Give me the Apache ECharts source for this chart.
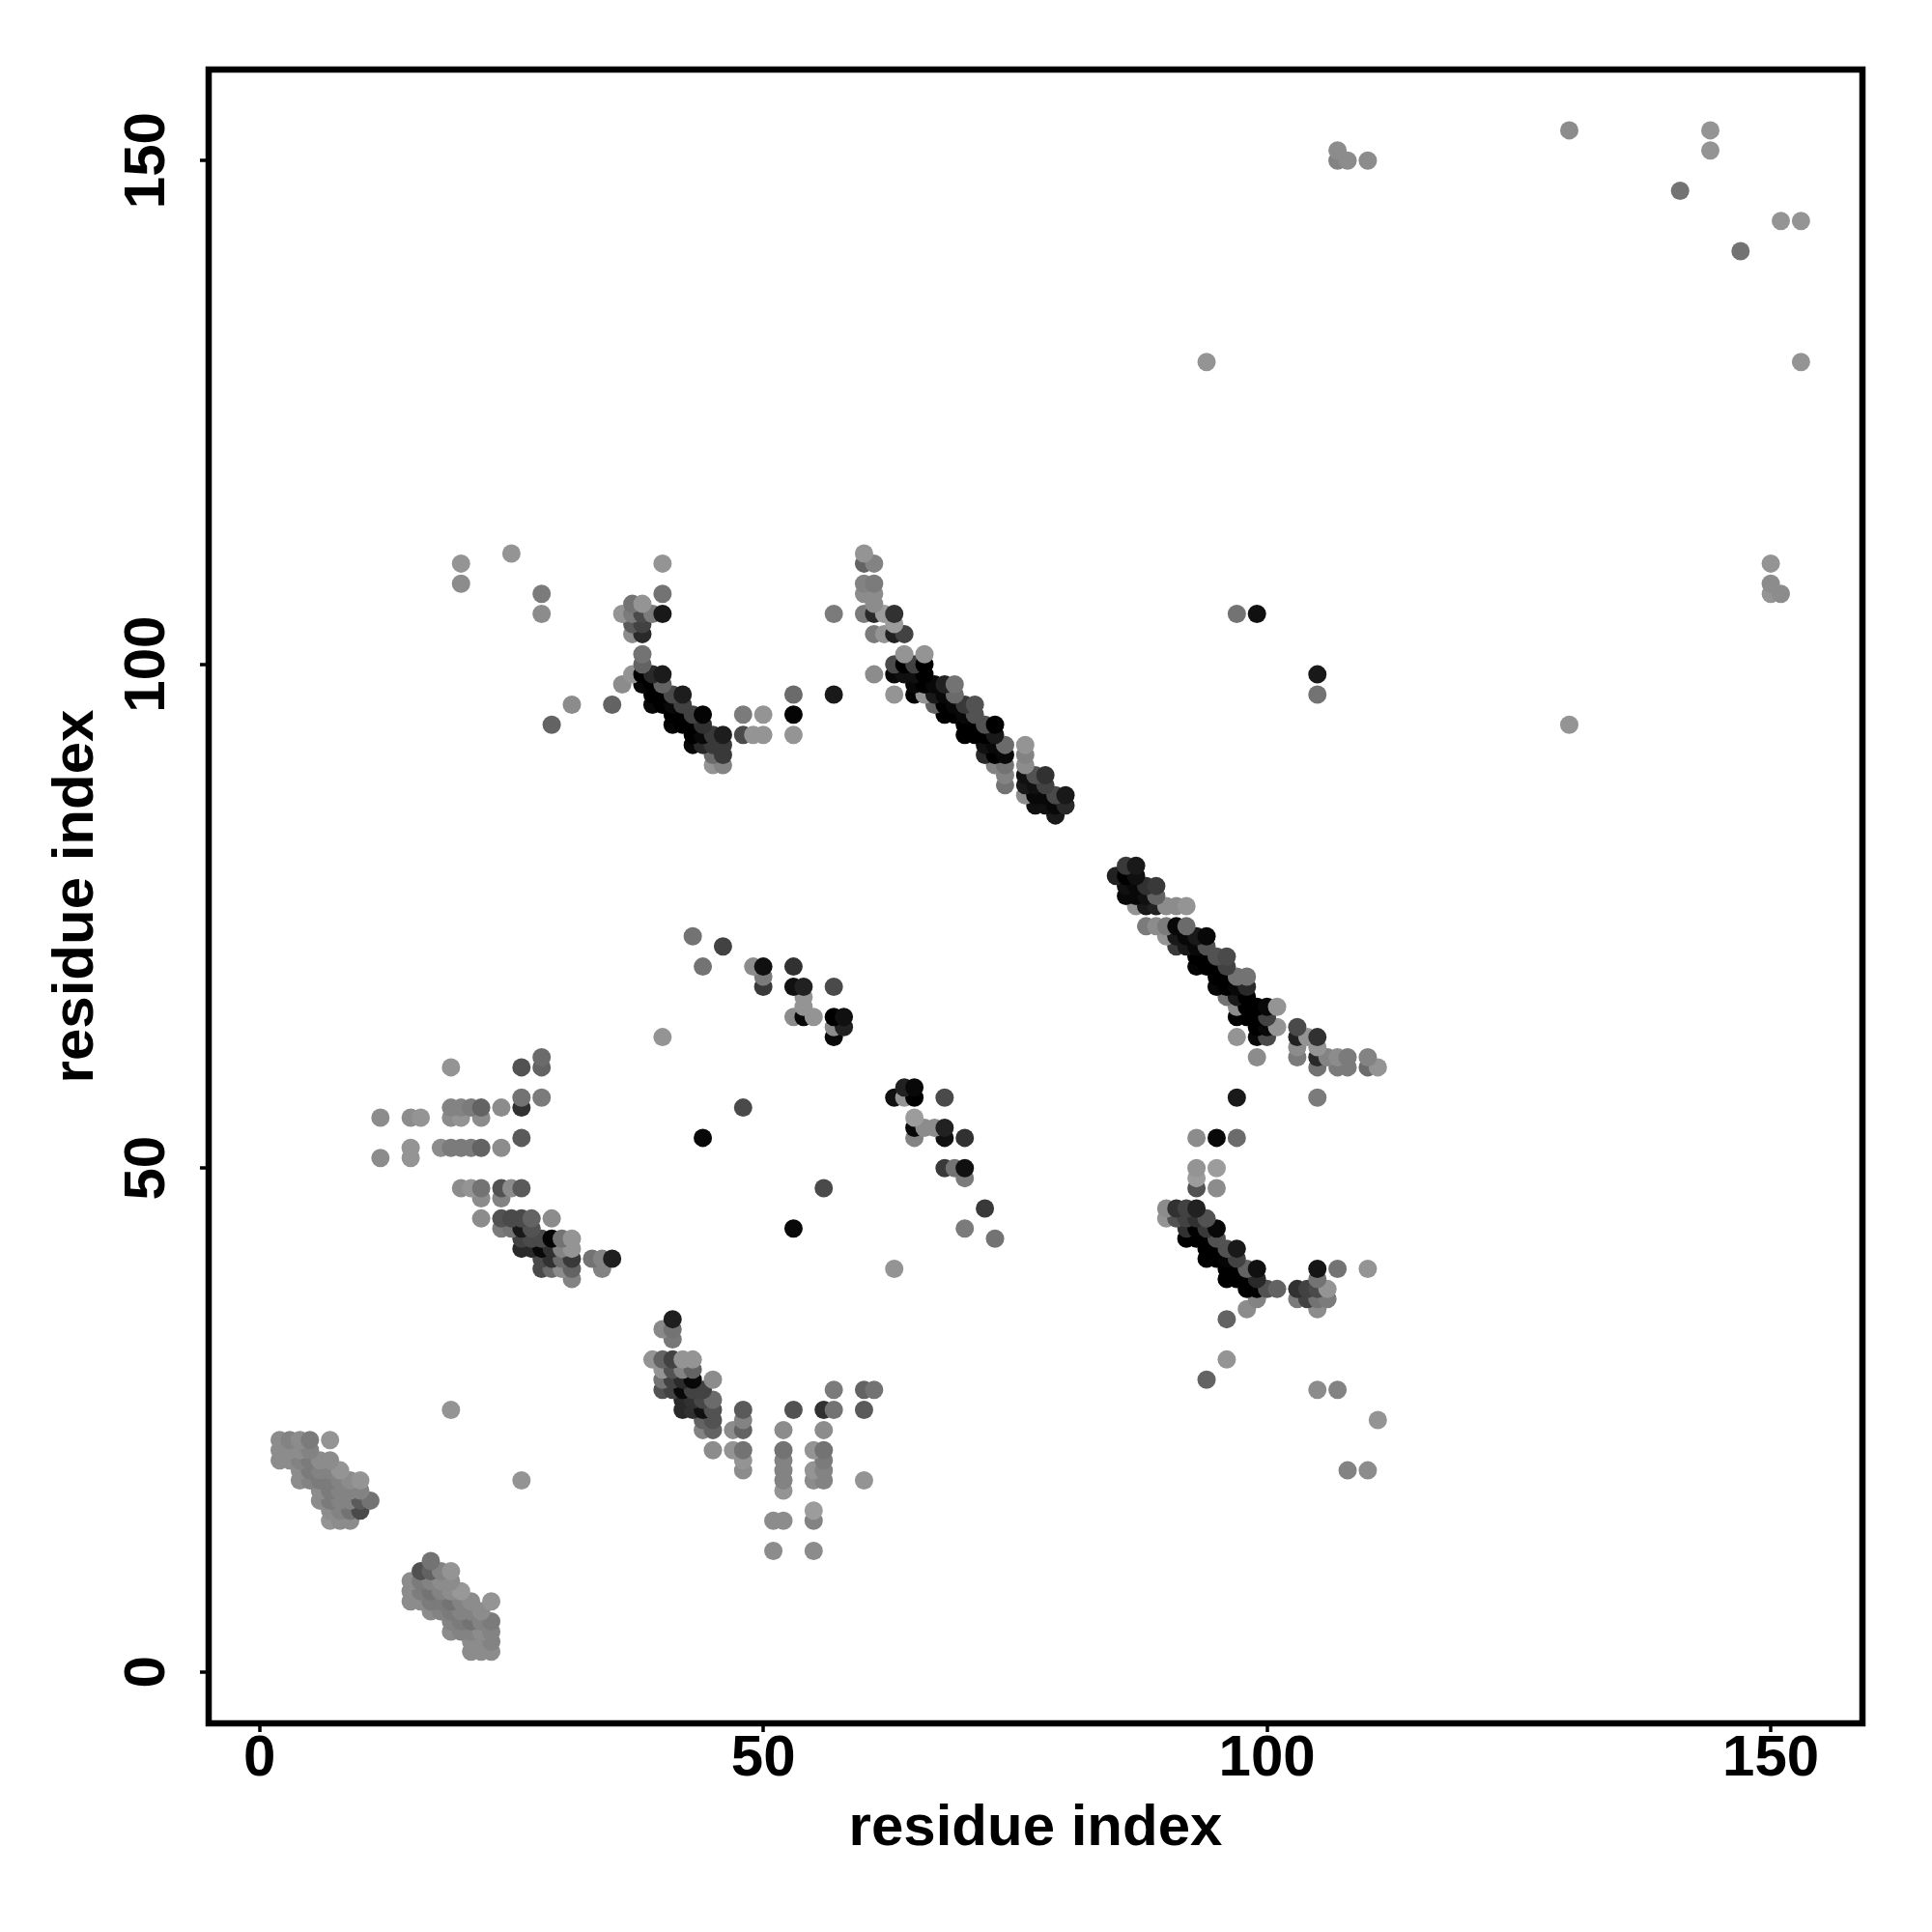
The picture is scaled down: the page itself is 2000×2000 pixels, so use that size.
<!DOCTYPE html>
<html>
<head>
<meta charset="utf-8">
<style>html,body{margin:0;padding:0;background:#fff}#c{width:2000px;height:2000px}</style>
<script src="https://cdn.jsdelivr.net/npm/echarts@6/dist/echarts.min.js"></script>
</head>
<body>
<div id="c"></div>
<script>
// Each entry: [residue i, residue j, level]  (level: 0 = strongest/black, 0x98 = weakest/light grey)
const tickValues = [0, 50, 100, 150];
const axisTitle = 'residue index';

const clusterA = [
[19,26,0x90],[26,19,0x90],
[2,23,0x88],[3,23,0x80],[4,23,0x88],[5,23,0x78],[7,23,0x90],
[2,22,0x88],[3,22,0x88],[4,22,0x88],[5,22,0x80],
[2,21,0x88],[3,21,0x88],[4,21,0x80],[5,21,0x78],[6,21,0x88],[7,21,0x88],
[4,20,0x88],[5,20,0x78],[6,20,0x80],[7,20,0x80],[8,20,0x90],
[4,19,0x88],[5,19,0x80],[6,19,0x78],[7,19,0x78],[8,19,0x80],[9,19,0x88],[10,19,0x90],
[6,18,0x88],[7,18,0x78],[8,18,0x80],[9,18,0x80],[10,18,0x80],
[6,17,0x88],[7,17,0x78],[8,17,0x80],[9,17,0x80],[10,17,0x58],[11,17,0x70],
[7,16,0x88],[8,16,0x80],[9,16,0x70],[10,16,0x48],
[7,15,0x90],[8,15,0x88],[9,15,0x88]
];
const clusterB = [
[17,11,0x70],
[16,10,0x4f],[17,10,0x5f],[18,10,0x80],[19,10,0x90],
[15,9,0x88],[16,9,0x78],[17,9,0x80],[18,9,0x88],[19,9,0x88],
[15,8,0x88],[16,8,0x7a],[17,8,0x70],[18,8,0x80],[19,8,0x88],[20,8,0x94],
[15,7,0x88],[16,7,0x88],[17,7,0x78],[18,7,0x78],[19,7,0x70],[20,7,0x80],[21,7,0x88],[23,7,0x90],
[17,6,0x88],[18,6,0x80],[19,6,0x78],[20,6,0x80],[21,6,0x80],[22,6,0x88],
[19,5,0x80],[20,5,0x78],[21,5,0x70],[22,5,0x80],[23,5,0x78],
[19,4,0x88],[20,4,0x80],[21,4,0x80],[22,4,0x88],[23,4,0x80],
[21,3,0x88],[22,3,0x88],[23,3,0x80],
[21,2,0x88],[22,2,0x88],[23,2,0x88]
];
const clusterC = [
[41,35,0x1e],[40,34,0x85],[41,34,0x70],[41,33,0x75],
[39,31,0x90],[40,31,0x60],[41,31,0x40],[42,31,0x90],[43,31,0x90],
[40,30,0x90],[41,30,0x50],[42,30,0x80],[43,30,0x60],
[40,29,0x70],[41,29,0x40],[42,29,0x2a],[43,29,0x08],[45,29,0x88],
[40,28,0x50],[41,28,0x40],[42,28,0x08],[43,28,0x40],[44,28,0x40],[57,28,0x78],[60,28,0x60],[61,28,0x70],
[42,27,0x28],[43,27,0x30],[44,27,0x45],[45,27,0x68],
[42,26,0x28],[43,26,0x30],[44,26,0x10],[45,26,0x50],[48,26,0x58],[53,26,0x50],[56,26,0x30],[57,26,0x70],[60,26,0x58],
[44,25,0x60],[45,25,0x50],[48,25,0x80],
[44,24,0x80],[45,24,0x60],[47,24,0x88],[48,24,0x60],[52,24,0x88],[56,24,0x88],
[45,22,0x88],[47,22,0x90],[48,22,0x70],[52,22,0x70],[55,22,0x90],[56,22,0x70],
[48,21,0x90],[52,21,0x80],[56,21,0x78],
[48,20,0x88],[52,20,0x80],[55,20,0x90],[56,20,0x80],
[52,19,0x80],[55,19,0x88],[56,19,0x80],[60,19,0x90],
[52,18,0x90],[55,16,0x98],
[51,15,0x88],[52,15,0x88],[55,15,0x80],
[51,12,0x88],[55,12,0x88]
];
const clusterD = [
[19,60,0x90],[26,60,0x50],[28,61,0x68],[28,60,0x60],
[26,57,0x70],[28,57,0x78],
[19,56,0x80],[20,56,0x80],[21,56,0x78],[22,56,0x60],[24,56,0x88],[26,56,0x30],
[12,55,0x88],[15,55,0x88],[16,55,0x90],[19,55,0x88],[20,55,0x90],[22,55,0x88],
[26,53,0x58],
[15,52,0x90],[18,52,0x88],[19,52,0x78],[20,52,0x78],[21,52,0x78],[22,52,0x60],[24,52,0x88],
[12,51,0x88],[15,51,0x90],
[20,48,0x88],[21,48,0x90],[22,48,0x70],[24,48,0x50],[25,48,0x88],[26,48,0x58],
[22,47,0x88],[24,47,0x80],
[22,45,0x88],[24,45,0x50],[25,45,0x48],[26,45,0x48],[27,45,0x60],[29,45,0x88],
[24,44,0x78],[25,44,0x70],[26,44,0x18],[27,44,0x50],
[26,43,0x40],[27,43,0x48],[28,43,0x48],[29,43,0x05],[30,43,0x70],[31,43,0x90],
[26,42,0x28],[27,42,0x28],[28,42,0x08],[29,42,0x30],[30,42,0x80],[31,42,0x90],
[28,41,0x48],[29,41,0x30],[30,41,0x68],[31,41,0x38],[33,41,0x70],[34,41,0x80],[35,41,0x1e],
[28,40,0x48],[29,40,0x68],[30,40,0x88],[31,40,0x60],[34,40,0x80],
[31,39,0x80]
];
const clusterE = [
[20,110,0x90],[20,108,0x88],[25,111,0x90],[28,107,0x78],[28,105,0x88],
[40,110,0x90],[40,107,0x70],[40,105,0x18],
[37,106,0x70],[38,106,0x90],
[36,105,0x90],[37,105,0x78],[38,105,0x48],[39,105,0x78],
[37,104,0x58],[38,104,0x40],[37,103,0x88],[38,103,0x28],
[38,101,0x70],[38,100,0x60],[37,99,0x90],[36,98,0x88],[35,96,0x60],[31,96,0x88],[29,94,0x60],
[38,99,0x00],[39,99,0x28],[40,99,0x1a],
[38,98,0x08],[39,98,0x00],[40,98,0x60],
[39,97,0x00],[40,97,0x00],[41,97,0x48],[42,97,0x1c],[53,97,0x68],[57,97,0x18],
[39,96,0x08],[40,96,0x00],[41,96,0x08],[42,96,0x40],
[41,95,0x00],[42,95,0x00],[43,95,0x40],[44,95,0x04],[48,95,0x78],[50,95,0x90],[53,95,0x04],
[41,94,0x05],[42,94,0x00],[43,94,0x00],[44,94,0x30],
[43,93,0x00],[44,93,0x08],[45,93,0x38],[46,93,0x1c],[48,93,0x48],[49,93,0x90],[50,93,0x90],[53,93,0x90],
[43,92,0x08],[44,92,0x28],[45,92,0x38],[46,92,0x38],
[45,91,0x68],[46,91,0x38],[45,90,0x90],[46,90,0x80],
[57,105,0x78]
];
const clusterF = [
[60,111,0x90],[60,110,0x60],[61,110,0x80],
[60,108,0x80],[61,108,0x78],[60,107,0x88],[61,107,0x88],[61,106,0x88],
[60,105,0x78],[61,105,0x28],[62,105,0x98],[63,105,0x30],[63,104,0x98],
[61,103,0x78],[62,103,0x90],[63,103,0x20],[64,103,0x40],
[64,101,0x90],[66,101,0x90],
[63,100,0x48],[64,100,0x00],[65,100,0x40],[66,100,0x00],
[61,99,0x88],[63,99,0x08],[64,99,0x10],[65,99,0x10],[66,99,0x00],
[65,98,0x08],[66,98,0x00],[67,98,0x08],[68,98,0x20],[69,98,0x70],
[63,97,0x90],[65,97,0x00],[66,97,0x90],[67,97,0x18],[68,97,0x08],[69,97,0x68],
[67,96,0x60],[68,96,0x00],[69,96,0x08],[70,96,0x38],[71,96,0x50],
[68,95,0x00],[69,95,0x00],[70,95,0x08],[71,95,0x50],
[70,94,0x00],[71,94,0x00],[72,94,0x50],[73,94,0x00],
[70,93,0x00],[71,93,0x00],[72,93,0x00],[73,93,0x18],
[72,92,0x10],[73,92,0x08],[74,92,0x68],[76,92,0x90],
[72,91,0x28],[73,91,0x00],[74,91,0x08],[76,91,0x80],
[73,90,0x80],[74,90,0x70],[76,90,0x88],
[74,89,0x80],[76,89,0x10],[77,89,0x50],[78,89,0x30],
[74,88,0x70],[76,88,0x18],[77,88,0x10],[78,88,0x40],
[76,87,0x88],[77,87,0x08],[78,87,0x08],[79,87,0x48],[80,87,0x18],
[77,86,0x10],[78,86,0x10],[79,86,0x08],[80,86,0x28],
[79,85,0x18]
];
const clusterG = [
[86,80,0x38],[87,80,0x18],
[85,79,0x20],[86,79,0x00],[87,79,0x10],
[86,78,0x10],[87,78,0x08],[88,78,0x30],[89,78,0x38],
[86,77,0x08],[87,77,0x08],[88,77,0x10],[89,77,0x60],
[87,76,0x90],[88,76,0x18],[89,76,0x20],[90,76,0x88],[91,76,0x88],[92,76,0x90],
[88,74,0x78],[89,74,0x88],[90,74,0x78],[91,74,0x08],[92,74,0x68],
[90,73,0x90],[91,73,0x18],[92,73,0x08],[93,73,0x18],[94,73,0x08],
[91,72,0x38],[92,72,0x18],[93,72,0x08],[94,72,0x50],
[93,71,0x00],[94,71,0x00],[95,71,0x50],[96,71,0x48],
[93,70,0x05],[94,70,0x00],[95,70,0x00],[96,70,0x40],
[95,69,0x00],[96,69,0x00],[97,69,0x70],[98,69,0x70],
[95,68,0x08],[96,68,0x00],[97,68,0x08],[98,68,0x28],
[96,67,0x70],[97,67,0x18],[98,67,0x00],
[97,66,0x88],[98,66,0x00],[99,66,0x00],[100,66,0x08],[101,66,0x90],
[97,65,0x00],[98,65,0x00],[99,65,0x00],[100,65,0x40],
[99,64,0x00],[100,64,0x08],[101,64,0x90],[103,64,0x48],
[97,63,0x90],[99,63,0x08],[100,63,0x48],[103,63,0x20],[104,63,0x90],[105,63,0x30],
[103,62,0x88],[105,62,0x90],
[99,61,0x88],[103,61,0x78],[105,61,0x28],[106,61,0x80],[107,61,0x88],[108,61,0x78],[110,61,0x80],
[105,60,0x70],[107,60,0x78],[108,60,0x78],[110,60,0x68],[111,60,0x90],
[97,57,0x18],[105,57,0x78]
];
const clusterH = [
[93,53,0x88],[95,53,0x08],[97,53,0x68],
[93,50,0x90],[95,50,0x98],[93,49,0x98],[93,48,0x50],[95,48,0x88],
[90,46,0x88],[91,46,0x30],[92,46,0x40],[93,46,0x20],
[90,45,0x90],[91,45,0x50],[92,45,0x40],[93,45,0x30],[94,45,0x50],
[92,44,0x30],[93,44,0x00],[94,44,0x38],[95,44,0x08],
[92,43,0x00],[93,43,0x00],[94,43,0x00],[95,43,0x50],
[94,42,0x00],[95,42,0x00],[96,42,0x50],[97,42,0x18],
[94,41,0x00],[95,41,0x00],[96,41,0x05],[97,41,0x40],
[96,40,0x00],[97,40,0x00],[98,40,0x60],[99,40,0x10],[105,40,0x14],[107,40,0x70],[110,40,0x90],
[96,39,0x00],[97,39,0x00],[98,39,0x00],[99,39,0x28],[105,39,0x70],
[98,38,0x00],[99,38,0x00],[100,38,0x50],[101,38,0x60],[103,38,0x30],[104,38,0x40],[105,38,0x48],[106,38,0x90],
[99,37,0x80],[103,37,0x78],[104,37,0x40],[105,37,0x70],[106,37,0x78],
[98,36,0x88],[105,36,0x88],[96,35,0x60],
[96,31,0x90],[94,29,0x60],[105,28,0x88],[107,28,0x80],
[111,25,0x90],[108,20,0x80],[110,20,0x88]
];
const clusterI = [
[43,73,0x70],[46,72,0x40],[44,70,0x70],[49,70,0x88],[50,70,0x10],[50,69,0x78],[50,68,0x38],
[53,70,0x30],[53,68,0x10],[54,68,0x20],[57,68,0x48],[54,67,0x90],[54,66,0x90],
[53,65,0x88],[54,65,0x08],[55,65,0x90],[57,65,0x00],[58,65,0x10],[58,64,0x20],[57,64,0x88],[57,63,0x08],
[40,63,0x90],[48,56,0x48],[44,53,0x08],[56,48,0x48],[53,44,0x08],[63,40,0x90]
];
const clusterJ = [
[63,57,0x10],[64,58,0x20],[65,58,0x08],[64,57,0x90],[65,57,0x00],[68,57,0x48],
[65,55,0x98],[65,54,0x08],[66,54,0x88],[67,54,0x88],[68,54,0x20],
[65,53,0x80],[68,53,0x10],[70,53,0x30],
[68,50,0x38],[69,50,0x70],[70,50,0x10],[70,49,0x78],
[72,46,0x38],[70,44,0x78],[73,43,0x70]
];
const clusterK = [
[97,105,0x70],[99,105,0x10],[105,99,0x18],[105,97,0x70],
[107,151,0x88],[107,150,0x80],[108,150,0x88],[110,150,0x88],
[130,153,0x88],[144,153,0x90],[144,151,0x90],[141,147,0x70],[147,141,0x70],
[151,144,0x90],[153,144,0x90],[94,130,0x90],[153,130,0x90],[130,94,0x90],
[150,110,0x90],[150,108,0x88],[150,107,0x90],[151,107,0x88]
];

const contacts = [].concat(clusterA, clusterB, clusterC, clusterD, clusterE, clusterF,
  clusterG, clusterH, clusterI, clusterJ, clusterK)
  .sort((a, b) => a[1] - b[1] || a[0] - b[0]);

const FONT = '"Liberation Sans", Arial, sans-serif';
const chart = echarts.init(document.getElementById('c'), null, {renderer: 'canvas', width: 2000, height: 2000});
chart.setOption({
  animation: false,
  backgroundColor: '#fff',
  grid: {left: 216, top: 72, width: 1712, height: 1712, show: true,
    backgroundColor: 'transparent', borderColor: '#000', borderWidth: 6.5},
  xAxis: {
    type: 'value', min: -5.05, max: 159.1,
    name: axisTitle, nameLocation: 'middle', nameGap: 79,
    nameTextStyle: {fontFamily: FONT, fontWeight: 'bold', fontSize: 60, color: '#000'},
    splitLine: {show: false}, axisLine: {show: false, onZero: false},
    axisTick: {show: true, length: 9, lineStyle: {color: '#000', width: 3.5}, customValues: tickValues},
    axisLabel: {show: true, margin: 7.5, fontFamily: FONT, fontWeight: 'bold', fontSize: 60, color: '#000', customValues: tickValues}
  },
  yAxis: {
    type: 'value', min: -5.11, max: 159.03,
    name: axisTitle, nameLocation: 'middle', nameGap: 107,
    nameTextStyle: {fontFamily: FONT, fontWeight: 'bold', fontSize: 60, color: '#000'},
    splitLine: {show: false}, axisLine: {show: false, onZero: false},
    axisTick: {show: true, length: 9, lineStyle: {color: '#000', width: 3.5}, customValues: tickValues},
    axisLabel: {show: true, rotate: 90, margin: 33, fontFamily: FONT, fontWeight: 'bold', fontSize: 60, color: '#000', customValues: tickValues}
  },
  visualMap: {show: false, type: 'continuous', dimension: 2, min: 0, max: 0x98, seriesIndex: 0,
    inRange: {color: ['#000000', '#9c9c9c']}},
  series: [{
    type: 'scatter', data: contacts, symbol: 'circle', symbolSize: 19,
    encode: {x: 0, y: 1}, itemStyle: {opacity: 1}, large: false, progressive: 0
  }]
});
</script>
</body>
</html>
